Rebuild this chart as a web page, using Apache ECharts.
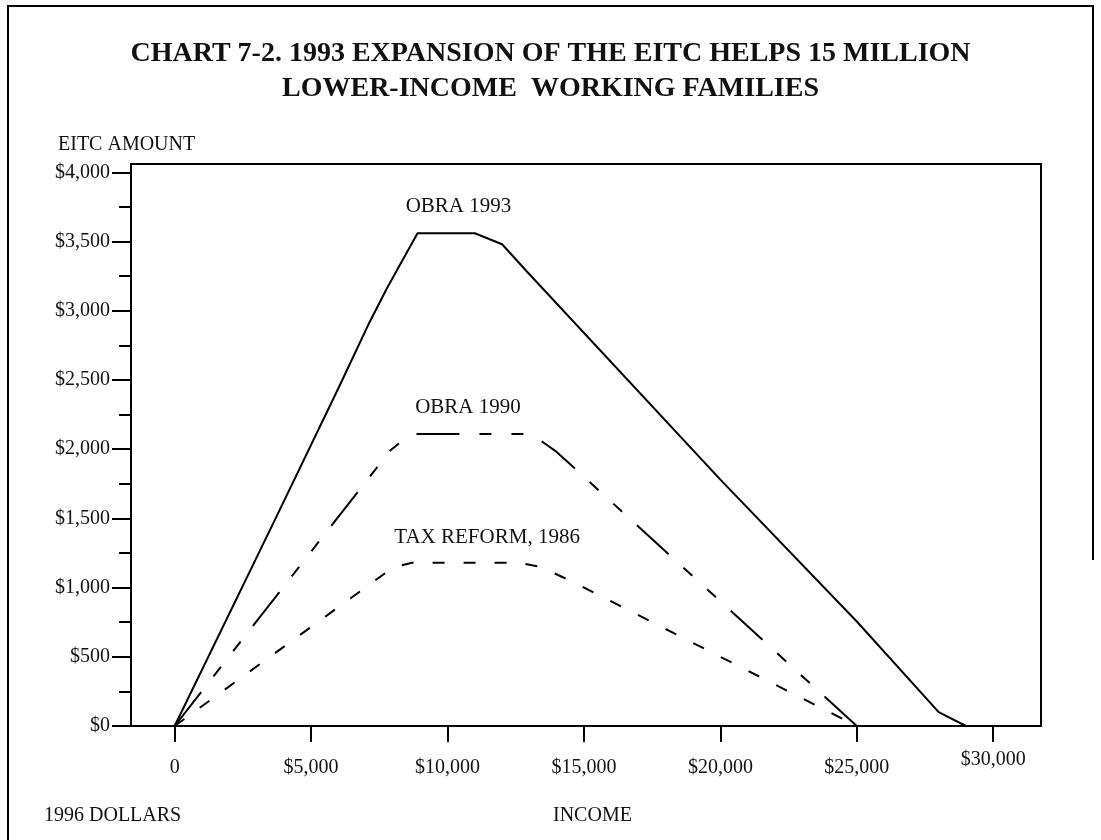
<!DOCTYPE html>
<html>
<head>
<meta charset="utf-8">
<title>EITC chart</title>
<script src="https://cdn.jsdelivr.net/npm/echarts@6/dist/echarts.min.js"></script>
<style>
  html, body { margin: 0; padding: 0; background: #fff; }
  #chart { width: 1101px; height: 840px; }
</style>
</head>
<body>
<div id="chart"></div>
<script>
// values (income in 1996 dollars, EITC amount)
const obra1993Income = [0, 3700, 6000, 7100, 7800, 8900, 11000, 12000, 12900, 20000, 25000, 28000, 29000];
const obra1993Amount = [0, 1500, 2440, 2900, 3170, 3560, 3560, 3480, 3285, 1780, 755, 100, 0];

const obra1990Income = [0, 7900, 8400, 8900, 12900, 13500, 14000, 25000];
const obra1990Amount = [0, 1990, 2070, 2110, 2110, 2050, 1980, 0];

const tax1986Income = [0, 8000, 8700, 12600, 13400, 14500, 25000];
const tax1986Amount = [0, 1145, 1180, 1180, 1150, 1050, 0];

const xTicks = [0, 5000, 10000, 15000, 20000, 25000, 30000];
const yMajorTicks = [0, 500, 1000, 1500, 2000, 2500, 3000, 3500, 4000];
const yMinorTicks = [250, 750, 1250, 1750, 2250, 2750, 3250, 3750];

const curveLabels = ['OBRA 1993', 'OBRA 1990', 'TAX REFORM, 1986'];
const labelIncome = [10400, 10750, 11450];
const labelAmount = [3750, 2300, 1365];

const FONT = 'Liberation Serif, Times New Roman, serif';

function zip(xs, ys) {
  return xs.map((x, i) => [x, ys[i]]);
}

function money(v) {
  return '$' + v.toLocaleString('en-US');
}

const chart = echarts.init(document.getElementById('chart'));

chart.setOption({
  animation: false,
  backgroundColor: '#fff',
  title: [
    {
      text: 'CHART 7-2. 1993 EXPANSION OF THE EITC HELPS 15 MILLION\nLOWER-INCOME  WORKING FAMILIES',
      left: 'center',
      top: 31,
      textStyle: {
        fontFamily: FONT,
        fontWeight: 'bold',
        fontSize: 28,
        lineHeight: 35,
        color: '#111',
        align: 'center'
      }
    },
    {
      text: 'EITC AMOUNT',
      left: 53,
      top: 130,
      textStyle: { fontFamily: FONT, fontWeight: 'normal', fontSize: 20, lineHeight: 20, color: '#111' }
    },
    {
      text: '1996 DOLLARS',
      left: 39,
      top: 801,
      textStyle: { fontFamily: FONT, fontWeight: 'normal', fontSize: 20, lineHeight: 20, color: '#111' }
    },
    {
      text: 'INCOME',
      left: 548,
      top: 801,
      textStyle: { fontFamily: FONT, fontWeight: 'normal', fontSize: 20, lineHeight: 20, color: '#111' }
    }
  ],
  grid: {
    left: 131,
    right: 60,
    top: 164,
    bottom: 114,
    containLabel: false,
    outerBoundsMode: 'none',
    show: true,
    borderColor: '#000',
    borderWidth: 2,
    backgroundColor: 'transparent'
  },
  xAxis: {
    type: 'value',
    min: -1600,
    max: 31750,
    axisLine: { show: true, onZero: false, lineStyle: { color: '#000', width: 2 } },
    axisTick: {
      show: true,
      length: 16,
      customValues: xTicks,
      lineStyle: { color: '#000', width: 2 }
    },
    axisLabel: {
      customValues: xTicks,
      margin: 42,
      verticalAlign: 'middle',
      color: '#111',
      fontFamily: FONT,
      fontSize: 20,
      formatter: function(v) {
        if (v === 0) return '0';
        if (v === 30000) return '{hi|' + money(v) + '}';
        return money(v);
      },
      rich: {
        hi: {
          fontFamily: FONT,
          fontSize: 20,
          color: '#111',
          padding: [0, 0, 16, 0]
        }
      }
    },
    splitLine: { show: false }
  },
  yAxis: [
    {
      type: 'value',
      min: 0,
      max: 4060,
      axisLine: { show: true, onZero: false, lineStyle: { color: '#000', width: 2 } },
      axisTick: {
        show: true,
        length: 19,
        customValues: yMajorTicks,
        lineStyle: { color: '#000', width: 2 }
      },
      axisLabel: {
        customValues: yMajorTicks,
        margin: 21,
        color: '#111',
        fontFamily: FONT,
        fontSize: 20,
        formatter: money
      },
      splitLine: { show: false }
    },
    {
      type: 'value',
      min: 0,
      max: 4060,
      position: 'left',
      axisLine: { show: false, onZero: false },
      axisTick: {
        show: true,
        length: 12,
        customValues: yMinorTicks,
        lineStyle: { color: '#000', width: 2 }
      },
      axisLabel: { show: false },
      splitLine: { show: false }
    }
  ],
  series: [
    {
      name: 'OBRA 1993',
      type: 'line',
      data: zip(obra1993Income, obra1993Amount),
      symbol: 'none',
      lineStyle: { color: '#000', width: 2, type: 'solid' }
    },
    {
      name: 'OBRA 1990',
      type: 'line',
      data: zip(obra1990Income, obra1990Amount),
      symbol: 'none',
      lineStyle: { color: '#000', width: 2, type: [43, 20, 12, 20, 12, 20] }
    },
    {
      name: 'TAX REFORM, 1986',
      type: 'line',
      data: zip(tax1986Income, tax1986Amount),
      symbol: 'none',
      lineStyle: { color: '#000', width: 2, type: [12, 19] }
    }
  ]
});

// curve labels placed through the axes, plus the page frame
const graphics = curveLabels.map((txt, i) => {
  const p = chart.convertToPixel({ xAxisIndex: 0, yAxisIndex: 0 }, [labelIncome[i], labelAmount[i]]);
  return {
    type: 'text',
    x: p[0],
    y: p[1],
    style: {
      text: txt,
      fill: '#111',
      font: '21px ' + FONT,
      align: 'center',
      verticalAlign: 'middle',
      textAlign: 'center',
      textVerticalAlign: 'middle'
    }
  };
});

graphics.push({
  type: 'polyline',
  shape: { points: [[8, 840], [8, 6], [1093, 6], [1093, 560]] },
  style: { stroke: '#000', lineWidth: 2, fill: null }
});

chart.setOption({ graphic: graphics });
</script>
</body>
</html>
